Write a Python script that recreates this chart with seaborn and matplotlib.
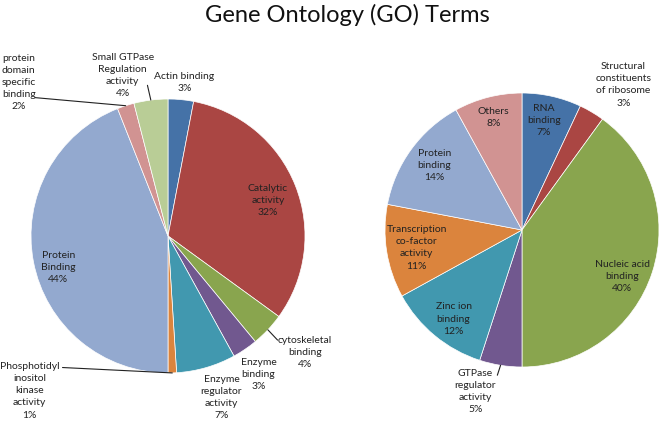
import numpy as np
import seaborn as sns
import matplotlib.pyplot as plt

# left pie: molecular function terms
left_labels = ['Actin binding', 'Catalytic\nactivity', 'cytoskeletal\nbinding', 'Enzyme\nbinding',
               'Enzyme\nregulator\nactivity', 'Phosphotidyl\ninositol\nkinase\nactivity', 'Protein\nBinding',
               'protein\ndomain\nspecific\nbinding', 'Small GTPase\nRegulation\nactivity']
left_pct = [3, 32, 4, 3, 7, 1, 44, 2, 4]

# right pie
right_labels = ['RNA\nbinding', 'Structural\nconstituents\nof ribosome', 'Nucleic acid\nbinding',
                'GTPase\nregulator\nactivity', 'Zinc ion\nbinding', 'Transcription\nco-factor\nactivity',
                'Protein\nbinding', 'Others']
right_pct = [7, 3, 40, 5, 12, 11, 14, 8]

palette = sns.color_palette(['#4572A7', '#AA4643', '#89A54E', '#71588F', '#4198AF',
                             '#DB843D', '#93A9CF', '#D19392', '#B9CD96'])

# label layout (pie radius units): text centre, leader line start (or None)
left_pos = [((0.12, 1.12), None), ((0.73, 0.26), None), ((1.0, -0.85), (0.80, -0.76)),
            ((0.66, -1.01), None), ((0.39, -1.18), None), ((-1.01, -1.13), (-0.77, -0.96)),
            ((-0.80, -0.23), None), ((-1.09, 1.12), (-0.97, 1.01)), ((-0.33, 1.17), (-0.15, 1.10))]
right_pos = [((0.16, 0.80), None), ((0.74, 1.06), None), ((0.73, -0.34), None),
             ((-0.34, -1.18), (-0.18, -1.06)), ((-0.50, -0.65), None), ((-0.77, -0.13), None),
             ((-0.64, 0.47), None), ((-0.21, 0.82), None)]

sns.set_style('white')
plt.rcParams['font.family'] = ['Lato', 'DejaVu Sans']

W, H = 662, 424
fig = plt.figure(figsize=(W / 100, H / 100), dpi=100)
R = 137
L = 1.2


def draw_pie(cx, cy, pct, labels, pos):
    side = 2 * L * R
    ax = fig.add_axes([(cx - side / 2) / W, (H - cy - side / 2) / H, side / W, side / H])
    wedges, _ = ax.pie(pct, colors=palette[:len(pct)], startangle=90, counterclock=False,
                       wedgeprops=dict(edgecolor='white', linewidth=0.5))
    ax.set_xlim(-L, L)
    ax.set_ylim(-L, L)
    ax.set_aspect('equal')
    ax.axis('off')
    for w, lab, p, ((tx, ty), start) in zip(wedges, labels, pct, pos):
        ax.text(tx, ty, f'{lab}\n{p}%', ha='center', va='center', fontsize=7.5,
                color='#222222', linespacing=1.45)
        if start is not None:
            ang = np.deg2rad((w.theta1 + w.theta2) / 2)
            ax.plot([start[0], np.cos(ang)], [start[1], np.sin(ang)], color='#222222', lw=0.8,
                    clip_on=False)
    return ax


draw_pie(168, 236, left_pct, left_labels, left_pos)
draw_pie(522, 230, right_pct, right_labels, right_pos)

fig.text(347 / W, 1 - 15 / H, 'Gene Ontology (GO) Terms', ha='center', va='center', fontsize=17,
         color='#111111')

fig.savefig('out.png', dpi=100)
